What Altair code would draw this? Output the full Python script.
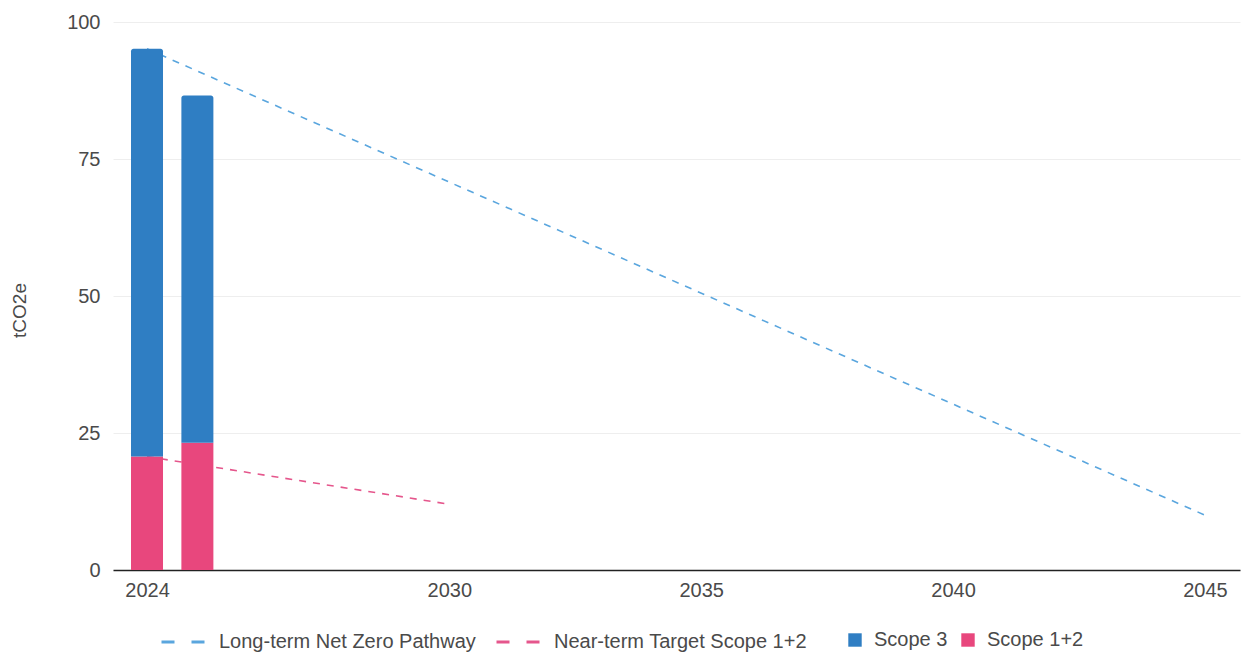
import altair as alt
import pandas as pd

# ---- data ----
bar_years = [2024, 2025]
scope12 = [20.7, 23.2]
scope3 = [74.4, 63.4]

lt_years = [2024, 2045]
lt_values = [95.1, 10.0]
nt_years = [2024, 2030]
nt_values = [20.7, 12.0]

line_names = ["Long-term Net Zero Pathway", "Near-term Target Scope 1+2"]
bar_names = ["Scope 3", "Scope 1+2"]
x_ticks = [2024, 2030, 2035, 2040, 2045]
y_ticks = [0, 25, 50, 75, 100]

line_colors = ["#5AA6DE", "#E5568C"]
bar_colors = ["#2F7EC3", "#E8477D"]

FONT = "Liberation Sans"
TEXT = "#4a4a4a"

# ---- tables ----
lines_df = pd.DataFrame({
    "year": lt_years + nt_years,
    "value": lt_values + nt_values,
    "series": [line_names[0]] * len(lt_years) + [line_names[1]] * len(nt_years),
})

b12_df = pd.DataFrame({
    "year": bar_years,
    "low": [0] * len(bar_years),
    "high": scope12,
    "scope": [bar_names[1]] * len(bar_years),
})
b3_df = pd.DataFrame({
    "year": bar_years,
    "low": scope12,
    "high": [a + b for a, b in zip(scope12, scope3)],
    "scope": [bar_names[0]] * len(bar_years),
})

x_enc = alt.X(
    "year:Q",
    scale=alt.Scale(domain=[2023.325, 2045.695], nice=False, zero=False, padding=0),
    axis=alt.Axis(values=x_ticks, format="d", title=None, grid=False, ticks=False,
                  domain=True, domainColor="#222222", domainWidth=1.5,
                  labelPadding=10, labelFontSize=20, labelColor=TEXT,
                  labelFont=FONT),
)

y_axis = alt.Axis(values=y_ticks, title="tCO2e", grid=True, gridColor="#eeeeee",
                  gridWidth=1, ticks=False, domain=False, labelPadding=13,
                  labelFontSize=20, labelColor=TEXT, labelFont=FONT,
                  titleFont=FONT, titleFontSize=19, titleFontWeight="normal",
                  titleColor=TEXT, titlePadding=37, titleY=288)

lines = alt.Chart(lines_df).mark_line(strokeDash=[7, 7], strokeWidth=1.6).encode(
    x=x_enc,
    y=alt.Y("value:Q", scale=alt.Scale(domain=[0, 100]), axis=y_axis),
    color=alt.Color(
        "series:N",
        scale=alt.Scale(domain=line_names, range=line_colors),
        legend=alt.Legend(
            title=None, orient="none", direction="horizontal",
            legendX=47, legendY=597,
            symbolType="stroke", symbolDash=[13, 17], symbolStrokeWidth=3,
            symbolSize=1849, labelOffset=13, columnPadding=14, labelLimit=500,
            labelFontSize=20, labelFont=FONT, labelColor=TEXT,
        ),
    ),
)

bar_color = alt.Color(
    "scope:N",
    scale=alt.Scale(domain=bar_names, range=bar_colors),
    legend=alt.Legend(
        title=None, orient="none", direction="horizontal",
        legendX=732, legendY=608,
        symbolType="square", symbolSize=180, symbolStrokeWidth=0,
        labelOffset=9, columnPadding=10, labelLimit=300,
        labelFontSize=20, labelFont=FONT, labelColor=TEXT,
    ),
)

bars12 = alt.Chart(b12_df).mark_bar(size=32).encode(
    x=x_enc,
    y=alt.Y("low:Q", scale=alt.Scale(domain=[0, 100]), axis=y_axis),
    y2="high:Q",
    color=bar_color,
)
bars3 = alt.Chart(b3_df).mark_bar(size=32, cornerRadiusTopLeft=2.5,
                                  cornerRadiusTopRight=2.5).encode(
    x=x_enc,
    y=alt.Y("low:Q", scale=alt.Scale(domain=[0, 100]), axis=y_axis),
    y2="high:Q",
    color=bar_color,
)

bars = alt.layer(bars12, bars3)

chart = alt.layer(lines, bars).resolve_scale(color="independent").properties(
    width=1127,
    height=548,
    autosize=alt.AutoSizeParams(type="none"),
    padding={"left": 113, "top": 22, "right": 3, "bottom": 86},
).configure(font=FONT).configure_view(stroke="transparent")

chart.save("out.html", embed_options={"renderer": "svg", "actions": False})
